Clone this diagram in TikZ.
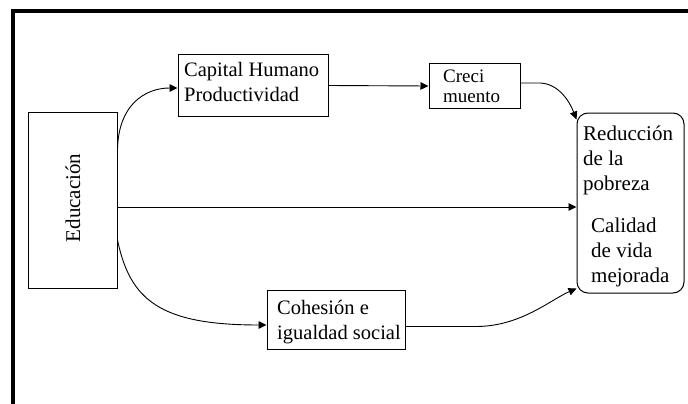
\documentclass[tikz,border=0pt]{standalone}
\usepackage{fontspec}
\setmainfont{Liberation Serif}
\usetikzlibrary{arrows.meta}
\begin{document}
\begin{tikzpicture}[x=1pt,y=-1pt,
  box/.style={draw=black,line width=1pt,inner sep=0pt},
  txt/.style={inner sep=0pt,align=left,anchor=north west,font=\fontsize{21}{25}\selectfont},
  conn/.style={draw=black,line width=0.9pt,-{Triangle[length=8pt,width=7.5pt]}}]
\useasboundingbox (0,0) rectangle (688,404);
% frame
\draw[line width=4pt] (12.5,404) -- (12.5,11.5) -- (688,11.5);
% boxes
\node[box,minimum width=89pt,minimum height=176pt] (edu) at (72.5,200) {};
\node[box,minimum width=150pt,minimum height=61pt] (cap) at (253,85.5) {};
\node[box,minimum width=91pt,minimum height=44pt] (cre) at (474.5,86) {};
\node[box,rounded corners=11pt,minimum width=107pt,minimum height=180pt] (red) at (630.5,203) {};
\node[box,minimum width=138pt,minimum height=59pt] (coh) at (336,319.5) {};
% texts
\node[inner sep=0pt,rotate=90,font=\fontsize{21}{25}\selectfont] (edut) at (73,198) {Educación};
\node[txt,font=\fontsize{20.5}{25}\selectfont] (capt) at (184,62.5) {Capital Humano\\Productividad};
\node[txt,font=\fontsize{19}{19.5}\selectfont] (cret) at (443,70) {Creci\\muento};
\node[txt] (redt) at (583,126) {Reducción\\de la\\pobreza};
\node[txt] (calt) at (591,218) {Calidad\\de vida\\mejorada};
\node[txt,font=\fontsize{20.5}{25}\selectfont] (coht) at (277,300) {Cohesión e\\igualdad social};
% connectors
\draw[conn] ([yshift=22pt]edu.east) -- ([yshift=47pt]edu.east) .. controls (117,105) and (145,88) .. ([yshift=-2.5pt]cap.west);
\draw[conn] (cap.east) -- (cre.west);
\draw[conn] ([yshift=3pt]cre.east) -- ++(20,0) .. controls (558,84) and (569,100) .. ([yshift=-7pt]red.north west);
\draw[conn] ([yshift=-7pt]edu.east) -- ([yshift=-4pt]red.west);
\draw[conn] ([yshift=-40pt]edu.east) .. controls (130,300) and (160,325) .. ([yshift=-5.5pt]coh.west);
\draw[conn] ([yshift=-7pt]coh.east) -- ++(69,0) .. controls (520,327) and (550,300) .. ([yshift=5pt]red.south west);
\end{tikzpicture}
\end{document}
